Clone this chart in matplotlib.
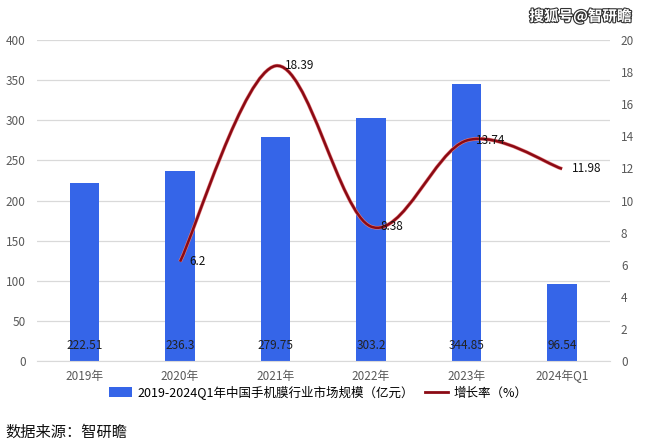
import matplotlib
matplotlib.use("Agg")
import matplotlib.pyplot as plt
import matplotlib.patheffects as pe
from matplotlib.path import Path
from matplotlib.patches import PathPatch
from matplotlib.lines import Line2D
from matplotlib.patches import Patch
import numpy as np

plt.rcParams['font.family'] = ['Noto Sans CJK SC', 'DejaVu Sans']

categories = ["2019年", "2020年", "2021年", "2022年", "2023年", "2024年Q1"]
market_size = [222.51, 236.3, 279.75, 303.2, 344.85, 96.54]
size_labels = ["222.51", "236.3", "279.75", "303.2", "344.85", "96.54"]
growth_idx = [1, 2, 3, 4, 5]
growth_rate = [6.2, 18.39, 8.38, 13.74, 11.98]
growth_labels = ["6.2", "18.39", "8.38", "13.74", "11.98"]
left_ticks = [0, 50, 100, 150, 200, 250, 300, 350, 400]
right_ticks = [0, 2, 4, 6, 8, 10, 12, 14, 16, 18, 20]
bar_name = "2019-2024Q1年中国手机膜行业市场规模（亿元）"
line_name = "增长率（%）"

fig = plt.figure(figsize=(6.46, 4.47), dpi=100)
ax = fig.add_axes([0.057, 0.192, 0.887, 0.7185])
ax2 = ax.twinx()

x = np.arange(len(categories))
bar_color = '#3565E8'
ax.bar(x, market_size, width=0.31, color=bar_color, zorder=2)
ax.set_xlim(-0.5, len(categories) - 0.5)
ax.set_ylim(0, 400)
ax.set_yticks(left_ticks)
ax.grid(axis='y', color='#D9D9D9', lw=0.9, zorder=0)
ax.set_axisbelow(True)
for s in ['top', 'left', 'right']:
    ax.spines[s].set_visible(False)
ax.spines['bottom'].set_color('#D9D9D9')
ax.set_xticks(x)
ax.set_xticklabels(categories)
ax.tick_params(axis='both', length=0, labelsize=8.5, labelcolor='#595959', pad=6)
ax.tick_params(axis='y', pad=8)

for xi, lab in zip(x, size_labels):
    ax.annotate(lab, (xi, 0), xytext=(0, 11), textcoords='offset points',
                ha='center', va='center', fontsize=8.5, color='#222222', zorder=3)

ax2.set_ylim(0, 20)
ax2.set_yticks(right_ticks)
for s in ['top', 'left', 'right', 'bottom']:
    ax2.spines[s].set_visible(False)
ax2.tick_params(axis='y', length=0, labelsize=8.5, labelcolor='#595959', pad=8)

# smooth (Catmull-Rom Bezier) line through growth points
gx = np.array(growth_idx, dtype=float)
gy = np.array(growth_rate, dtype=float)
P = np.column_stack([gx, gy])
Pext = np.vstack([P[0], P, P[-1]])
verts = [tuple(P[0])]
codes = [Path.MOVETO]
for i in range(1, len(Pext) - 2):
    p0, p1, p2, p3 = Pext[i - 1], Pext[i], Pext[i + 1], Pext[i + 2]
    c1 = p1 + (p2 - p0) / 6.0
    c2 = p2 - (p3 - p1) / 6.0
    verts += [tuple(c1), tuple(c2), tuple(p2)]
    codes += [Path.CURVE4] * 3
path = Path(verts, codes)
line_color = '#8B0A14'
patch = PathPatch(path, facecolor='none', edgecolor=line_color, lw=1.8, zorder=4,
                  path_effects=[pe.Stroke(linewidth=2.6, foreground='#E58080'), pe.Normal()])
ax2.add_patch(patch)

for xi, yi, lab in zip(gx, gy, growth_labels):
    ax2.annotate(lab, (xi, yi), xytext=(7, 0), textcoords='offset points',
                 ha='left', va='center', fontsize=8.5, color='#111111', zorder=5)

handles = [Patch(facecolor=bar_color, edgecolor='none'),
           Line2D([0], [0], color=line_color, lw=2.0)]
fig.legend(handles, [bar_name, line_name], loc='center', bbox_to_anchor=(0.493, 0.122),
           ncol=2, frameon=False, fontsize=9, handlelength=1.8, handleheight=0.8,
           columnspacing=0.9, handletextpad=0.45)

fig.text(0.008, 0.032, "数据来源：智研瞻", fontsize=11, color='#111111', ha='left', va='center')
fig.text(0.978, 0.963, "搜狐号@智研瞻", fontsize=10.5, color='white', ha='right', va='center',
         fontweight='bold',
         path_effects=[pe.Stroke(linewidth=1.6, foreground='#333333'), pe.Normal()])

fig.savefig("out.png", dpi=100)
